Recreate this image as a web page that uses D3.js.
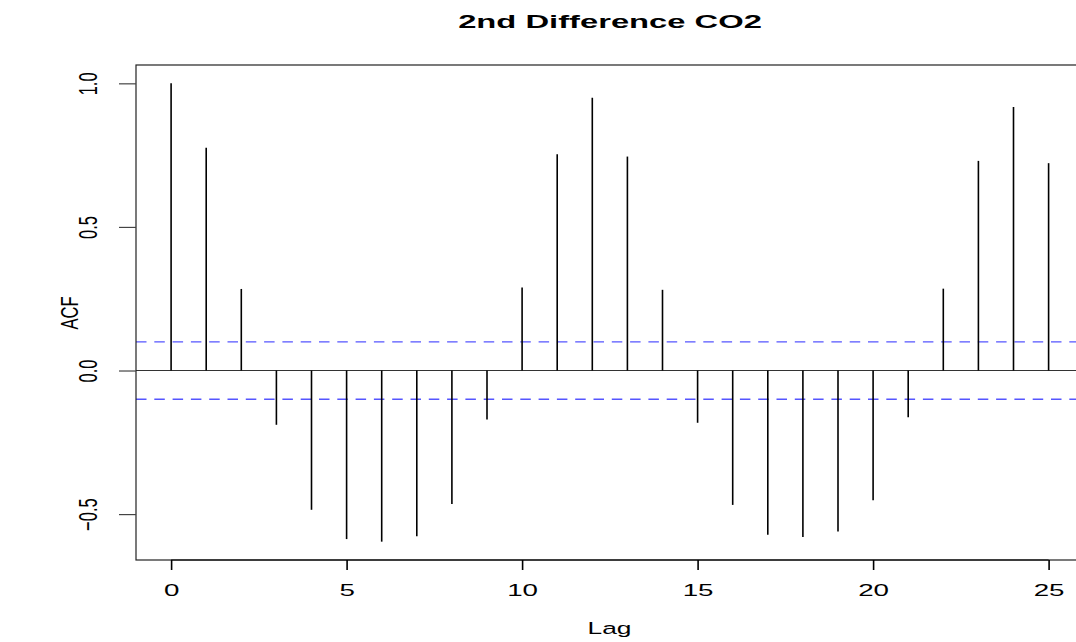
<!DOCTYPE html>
<html>
<head>
<meta charset="utf-8">
<script src="https://cdn.jsdelivr.net/npm/d3@7"></script>
<style>
  body { margin: 0; background: #fff; }
  svg text { font-family: "Liberation Sans", Arial, Helvetica, sans-serif; fill: #000; }
</style>
</head>
<body>
<div id="chart"></div>
<script>
// acf values
var lags = [0, 1, 2, 3, 4, 5, 6, 7, 8, 9, 10, 11, 12, 13, 14, 15, 16, 17, 18, 19, 20, 21, 22, 23, 24, 25];
var acfValues = [1.0, 0.776, 0.284, -0.189, -0.485, -0.587, -0.596, -0.577, -0.465, -0.171,
                 0.289, 0.753, 0.950, 0.745, 0.281, -0.182, -0.468, -0.572, -0.580, -0.561,
                 -0.452, -0.163, 0.285, 0.730, 0.918, 0.722];
var ciLevel = 0.1;
var xTicks = [0, 5, 10, 15, 20, 25];
var yTicks = [-0.5, 0.0, 0.5, 1.0];
var titleText = "2nd Difference CO2";
var xLabel = "Lag";
var yLabel = "ACF";

var width = 1076, height = 642;
var plot = {left: 136, top: 65, bottom: 560, perLag: 35.1};

var data = lags.map(function(d, i) { return {lag: d, acf: acfValues[i]}; });

// R style limits: data range pushed out by 4%
var xMin = d3.min(lags), xMax = d3.max(lags);
var xPad = (xMax - xMin) * 0.04;
var yLo = Math.min(d3.min(acfValues), -ciLevel), yHi = Math.max(d3.max(acfValues), ciLevel);
var yPad = (yHi - yLo) * 0.04;

var x = d3.scaleLinear()
    .domain([xMin - xPad, xMax + xPad])
    .range([plot.left, plot.left + plot.perLag * (xMax - xMin + 2 * xPad)]);

var y = d3.scaleLinear()
    .domain([yLo - yPad, yHi + yPad])
    .range([plot.bottom, plot.top]);

var svg = d3.select("#chart").append("svg")
    .attr("width", width)
    .attr("height", height);

// zero line
svg.append("line")
    .attr("x1", x.range()[0]).attr("x2", x.range()[1])
    .attr("y1", y(0)).attr("y2", y(0))
    .attr("stroke", "#333").attr("stroke-width", 1.2);

// confidence bounds
svg.selectAll(".ci")
    .data([ciLevel, -ciLevel])
    .enter().append("line")
    .attr("class", "ci")
    .attr("x1", x.range()[0]).attr("x2", x.range()[1])
    .attr("y1", function(d) { return y(d); })
    .attr("y2", function(d) { return y(d); })
    .attr("stroke", "#5555ff")
    .attr("stroke-width", 1.3)
    .attr("stroke-dasharray", "10.5,7.8");

// spikes
svg.selectAll(".spike")
    .data(data)
    .enter().append("line")
    .attr("class", "spike")
    .attr("x1", function(d) { return x(d.lag); })
    .attr("x2", function(d) { return x(d.lag); })
    .attr("y1", y(0))
    .attr("y2", function(d) { return y(d.acf); })
    .attr("stroke", "#000")
    .attr("stroke-width", 1.6);

// box
svg.append("rect")
    .attr("x", x.range()[0]).attr("y", y.range()[1])
    .attr("width", x.range()[1] - x.range()[0])
    .attr("height", y.range()[0] - y.range()[1])
    .attr("fill", "none")
    .attr("stroke", "#222")
    .attr("stroke-width", 1.2);

// x axis
var gx = svg.append("g")
    .attr("transform", "translate(0," + plot.bottom + ")")
    .call(d3.axisBottom(x).tickValues(xTicks).tickSize(10).tickPadding(0).tickSizeOuter(0));
gx.select(".domain").remove();
gx.append("line")
    .attr("x1", x(xTicks[0])).attr("x2", x(xTicks[xTicks.length - 1]))
    .attr("stroke", "#000").attr("stroke-width", 1.2);
gx.selectAll(".tick line").attr("stroke", "#000").attr("stroke-width", 1.6);
gx.selectAll(".tick text")
    .attr("y", null).attr("dy", null)
    .attr("font-size", 16.5)
    .attr("font-family", null)
    .attr("transform", "translate(0,36) scale(1.68,1)");

// y axis
var gy = svg.append("g")
    .attr("transform", "translate(" + plot.left + ",0)")
    .call(d3.axisLeft(y).tickValues(yTicks).tickSize(17).tickFormat(d3.format(".1f")).tickSizeOuter(0));
gy.select(".domain").remove();
gy.selectAll(".tick line").attr("stroke", "#444").attr("stroke-width", 1.2);
gy.selectAll(".tick text")
    .attr("x", null).attr("dy", null)
    .attr("text-anchor", "middle")
    .attr("font-size", 16.5)
    .attr("font-family", null)
    .attr("transform", "translate(-39,0) scale(1.6,1) rotate(-90)");

// title and axis labels
svg.append("text")
    .attr("text-anchor", "middle")
    .attr("font-size", 18.5)
    .attr("font-weight", "bold")
    .attr("transform", "translate(610,28) scale(1.77,1)")
    .text(titleText);

svg.append("text")
    .attr("text-anchor", "middle")
    .attr("font-size", 17)
    .attr("transform", "translate(609.5,634) scale(1.55,1)")
    .text(xLabel);

svg.append("text")
    .attr("text-anchor", "middle")
    .attr("font-size", 16.5)
    .attr("transform", "translate(77.5,313) scale(1.5,1) rotate(-90)")
    .text(yLabel);
</script>
</body>
</html>
